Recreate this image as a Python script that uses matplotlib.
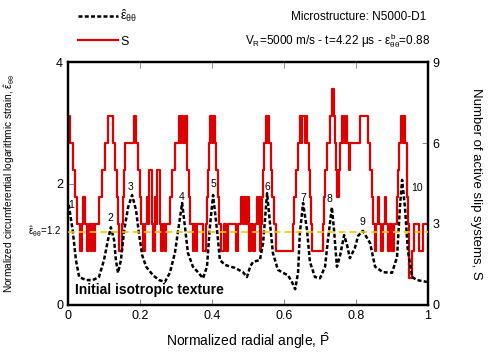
import matplotlib
matplotlib.use("Agg")
import matplotlib.pyplot as plt
from matplotlib.lines import Line2D

plt.rcParams['font.family'] = ['Liberation Sans', 'DejaVu Sans']
plt.rcParams['mathtext.fontset'] = 'custom'
plt.rcParams['mathtext.rm'] = 'Liberation Sans'
plt.rcParams['mathtext.it'] = 'Liberation Sans'

# strain curve (normalized radial angle, normalized strain)
p_strain = [0.002, 0.013, 0.022, 0.031, 0.050, 0.069, 0.086, 0.100, 0.111, 0.119,
            0.128, 0.133, 0.139, 0.147, 0.156, 0.167, 0.178, 0.189, 0.197, 0.206,
            0.217, 0.236, 0.253, 0.269, 0.283, 0.297, 0.306, 0.317, 0.325, 0.333,
            0.347, 0.361, 0.375, 0.386, 0.394, 0.403, 0.414, 0.422, 0.436, 0.464,
            0.486, 0.497, 0.506, 0.514, 0.533, 0.542, 0.553, 0.561, 0.569, 0.583,
            0.597, 0.611, 0.622, 0.631, 0.639, 0.644, 0.653, 0.664, 0.672, 0.686,
            0.700, 0.714, 0.722, 0.733, 0.739, 0.747, 0.756, 0.767, 0.775, 0.783,
            0.797, 0.806, 0.819, 0.839, 0.853, 0.875, 0.900, 0.914, 0.922, 0.928,
            0.936, 0.944, 0.956, 0.969, 0.997]
strain = [1.65, 1.23, 0.74, 0.46, 0.41, 0.41, 0.46, 0.74, 1.07, 1.28,
          1.07, 0.74, 0.53, 0.74, 1.23, 1.61, 1.81, 1.56, 1.18, 0.82,
          0.63, 0.49, 0.41, 0.38, 0.53, 0.86, 1.23, 1.68, 1.28, 0.86,
          0.63, 0.54, 0.44, 0.63, 1.28, 1.81, 1.23, 0.74, 0.66, 0.61,
          0.54, 0.46, 0.63, 0.71, 0.74, 1.02, 1.84, 1.35, 0.86, 0.58,
          0.53, 0.49, 0.38, 0.26, 0.53, 1.18, 1.68, 1.23, 0.71, 0.46,
          0.44, 0.63, 1.07, 1.61, 1.23, 0.63, 0.82, 1.15, 0.99, 0.77,
          0.94, 1.14, 1.22, 1.02, 0.63, 0.54, 0.53, 0.79, 1.61, 2.06,
          1.61, 0.90, 0.46, 0.41, 0.38]

# number of active slip systems (step starts)
p_slip = [0.000, 0.006, 0.014, 0.019, 0.025, 0.033, 0.039, 0.042, 0.047, 0.053,
          0.058, 0.064, 0.067, 0.072, 0.075, 0.086, 0.094, 0.103, 0.111, 0.125,
          0.131, 0.136, 0.139, 0.142, 0.150, 0.153, 0.156, 0.158, 0.183, 0.188,
          0.194, 0.200, 0.204, 0.208, 0.213, 0.219, 0.222, 0.225, 0.233, 0.236,
          0.242, 0.244, 0.247, 0.256, 0.258, 0.264, 0.269, 0.272, 0.283, 0.289,
          0.297, 0.308, 0.312, 0.315, 0.319, 0.325, 0.331, 0.336, 0.339, 0.347,
          0.350, 0.356, 0.358, 0.375, 0.383, 0.386, 0.389, 0.392, 0.394, 0.399,
          0.402, 0.408, 0.411, 0.417, 0.419, 0.425, 0.433, 0.439, 0.444, 0.467,
          0.472, 0.481, 0.486, 0.489, 0.494, 0.497, 0.503, 0.508, 0.514, 0.519,
          0.525, 0.528, 0.531, 0.533, 0.536, 0.539, 0.542, 0.544, 0.550, 0.553,
          0.556, 0.558, 0.564, 0.567, 0.572, 0.578, 0.625, 0.628, 0.633, 0.639,
          0.644, 0.647, 0.650, 0.658, 0.661, 0.664, 0.669, 0.672, 0.675, 0.678,
          0.708, 0.711, 0.714, 0.719, 0.728, 0.733, 0.739, 0.742, 0.744, 0.747,
          0.753, 0.756, 0.761, 0.764, 0.767, 0.769, 0.772, 0.775, 0.781, 0.783,
          0.811, 0.833, 0.839, 0.844, 0.847, 0.853, 0.856, 0.861, 0.864, 0.869,
          0.875, 0.881, 0.883, 0.889, 0.894, 0.900, 0.906, 0.914, 0.917, 0.919,
          0.925, 0.931, 0.933, 0.936, 0.942, 0.944, 0.947, 0.956, 0.961, 0.975,
          0.986, 1.000]
slip = [7, 6, 5, 4, 3, 2, 3, 4, 3, 2,
        3, 2, 3, 2, 3, 4, 5, 6, 7, 6,
        5, 4, 3, 2, 3, 4, 5, 6, 7, 6,
        5, 4, 3, 2, 3, 4, 3, 5, 3, 2,
        4, 3, 5, 3, 2, 3, 2, 3, 4, 5,
        6, 7, 6, 7, 6, 7, 5, 4, 3, 2,
        3, 2, 3, 2, 3, 4, 5, 6, 7, 6,
        7, 6, 5, 4, 3, 2, 3, 2, 3, 2,
        3, 4, 3, 4, 3, 4, 2, 3, 2, 3,
        4, 3, 4, 2, 3, 4, 5, 6, 7, 6,
        7, 6, 5, 4, 3, 2, 3, 4, 5, 6,
        7, 6, 7, 6, 7, 6, 5, 4, 3, 2,
        3, 4, 5, 6, 7, 8, 7, 6, 5, 4,
        5, 6, 7, 6, 7, 6, 7, 6, 5, 6,
        7, 6, 5, 4, 3, 2, 3, 4, 3, 2,
        3, 4, 3, 2, 3, 2, 3, 4, 5, 6,
        7, 6, 7, 6, 4, 3, 1, 2, 3, 2,
        3, 3]

# peak labels
peak_names = ['1', '2', '3', '4', '5', '6', '7', '8', '9', '10']
peak_p = [0.010, 0.117, 0.175, 0.317, 0.405, 0.555, 0.653, 0.725, 0.819, 0.970]
peak_e = [1.65, 1.43, 1.95, 1.78, 1.99, 1.94, 1.76, 1.74, 1.37, 1.93]

threshold = 1.2

fig = plt.figure(figsize=(4.91, 3.56), dpi=100)
ax = fig.add_axes([0.1385, 0.1433, 0.7332, 0.6825])
ax2 = ax.twinx()

ax2.step(p_slip, slip, where='post', color='#dd0000', lw=1.6)
ax.plot(p_strain, strain, color='black', lw=1.8, ls=(0, (1.6, 0.9)), zorder=5)
ax.axhline(threshold, color='#f5c400', lw=1.2, ls=(0, (4, 2.5)), zorder=6)

ax.set_zorder(ax2.get_zorder() + 1)
ax.patch.set_visible(False)

for name, px, py in zip(peak_names, peak_p, peak_e):
    ax.text(px, py, name, fontsize=7.5, ha='center', va='center')

ax.set_xlim(0, 1)
ax.set_ylim(0, 4)
ax2.set_ylim(0, 9)
ax.set_xticks([0, 0.2, 0.4, 0.6, 0.8, 1])
ax.set_xticklabels(['0', '0.2', '0.4', '0.6', '0.8', '1'])
ax.set_yticks([0, 2, 4])
ax2.set_yticks([0, 3, 6, 9])
ax.tick_params(direction='in', length=4, width=0.6, labelsize=9, top=True, colors='#777777', labelcolor='black')
ax2.tick_params(direction='in', length=4, width=0.6, labelsize=9, colors='#777777', labelcolor='black')
for a in (ax, ax2):
    for s in a.spines.values():
        s.set_linewidth(1.6)

ax.set_xlabel(r'Normalized radial angle, $\hat{\mathrm{P}}$', fontsize=10, labelpad=6)
ax.set_ylabel(r'Normalized circumferential logarithmic strain, $\hat{\varepsilon}_{\theta\theta}$',
              fontsize=7.3, labelpad=28)
ax2.set_ylabel('Number of active slip systems, S', fontsize=9.5, rotation=270, labelpad=30)

ax.text(-0.02, threshold, r'$\hat{\varepsilon}_{\theta\theta}$=1.2', fontsize=7,
        ha='right', va='center', transform=ax.get_yaxis_transform())
ax.text(0.02, 0.06, 'Initial isotropic texture', fontsize=10, fontweight='bold',
        transform=ax.transAxes, ha='left', va='center')

fig.text(0.869, 0.952, 'Microstructure: N5000-D1', fontsize=8.5, ha='right', va='center')
fig.text(0.876, 0.885, r'V$_R$=5000 m/s - t=4.22 μs - $\varepsilon^b_{\theta\theta}$=0.88',
         fontsize=8.5, ha='right', va='center')

handles = [Line2D([], [], color='black', lw=1.8, ls=(0, (1.6, 0.9))),
           Line2D([], [], color='#dd0000', lw=1.6)]
labels = [r'$\hat{\varepsilon}_{\theta\theta}$', 'S']
fig.legend(handles, labels, loc='upper left', bbox_to_anchor=(0.135, 1.01), frameon=False,
           fontsize=9, handlelength=3.2, handletextpad=0.2, labelspacing=0.9)

fig.savefig('out.png', dpi=100)
